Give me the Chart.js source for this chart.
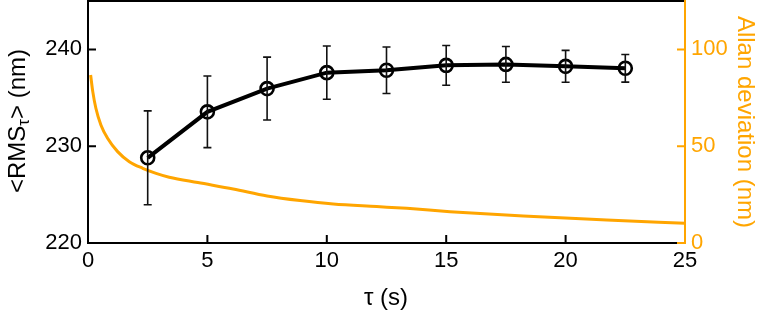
<!DOCTYPE html>
<html>
<head>
<meta charset="utf-8">
<script src="https://cdn.jsdelivr.net/npm/chart.js@4.4.0/dist/chart.umd.min.js"></script>
<style>
  html, body { margin: 0; padding: 0; background: #fff; }
  #wrap { width: 763px; height: 313px; }
</style>
</head>
<body>
<div id="wrap"><canvas id="rmsChart" width="763" height="313"></canvas></div>
<script>
// values

// <RMS_tau> with error bars (left axis)
const rmsTau  = [2.5, 5, 7.5, 10, 12.5, 15, 17.5, 20, 22.5];
const rmsMean = [228.8, 233.55, 235.95, 237.6, 237.85, 238.35, 238.45, 238.25, 238.05];
const rmsErr  = [4.85, 3.7, 3.25, 2.75, 2.4, 2.05, 1.85, 1.65, 1.43];

// Allan deviation curve (right axis)
const allanTau = [0.11, 0.20, 0.33, 0.54, 0.82, 1.24, 1.73, 2.29, 2.85, 3.4, 4.6, 6.08, 7.5, 8.88, 10.27, 12.09, 13.35, 15.16, 18.23, 21.72, 25];
const allanDev = [86.8, 78.2, 69.6, 61.0, 54.1, 47.2, 42.0, 38.6, 36.0, 34.0, 31.2, 27.9, 24.3, 21.9, 20.1, 18.8, 17.9, 16.2, 13.9, 11.9, 10.2];

// tick labels
const xTicks     = [0, 5, 10, 15, 20, 25];
const leftTicks  = [220, 230, 240];
const rightTicks = [0, 50, 100];

const orange = 'rgb(255,165,0)';
const black = '#000';

// error bars, drawn through the chart scales
const errorBarPlugin = {
    id: 'errorBars',
    afterDatasetsDraw(chart) {
        const ctx = chart.ctx;
        const xs = chart.scales.x, ys = chart.scales.yLeft;
        ctx.save();
        ctx.strokeStyle = '#111';
        ctx.lineWidth = 1.6;
        rmsTau.forEach((t, i) => {
            const px = xs.getPixelForValue(t);
            const top = ys.getPixelForValue(rmsMean[i] + rmsErr[i]);
            const bot = ys.getPixelForValue(rmsMean[i] - rmsErr[i]);
            ctx.beginPath();
            ctx.moveTo(px, top); ctx.lineTo(px, bot);
            ctx.moveTo(px - 4, top); ctx.lineTo(px + 4, top);
            ctx.moveTo(px - 4, bot); ctx.lineTo(px + 4, bot);
            ctx.stroke();
        });
        ctx.restore();
    }
};

// box top line, inward ticks and the axis titles
const framePlugin = {
    id: 'frame',
    afterDraw(chart) {
        const ctx = chart.ctx;
        const a = chart.chartArea;
        const xs = chart.scales.x, yl = chart.scales.yLeft, yr = chart.scales.yRight;
        ctx.save();
        ctx.lineWidth = 2;
        ctx.strokeStyle = black;
        ctx.beginPath();
        ctx.moveTo(a.left - 1, a.top); ctx.lineTo(a.right, a.top);
        ctx.stroke();

        ctx.beginPath();
        xTicks.forEach(v => { const p = xs.getPixelForValue(v); ctx.moveTo(p, a.bottom); ctx.lineTo(p, a.bottom - 8); });
        leftTicks.forEach(v => { const p = yl.getPixelForValue(v); ctx.moveTo(a.left, p); ctx.lineTo(a.left + 8, p); });
        ctx.stroke();

        ctx.strokeStyle = orange;
        ctx.beginPath();
        rightTicks.forEach(v => { const p = yr.getPixelForValue(v); ctx.moveTo(a.right, p); ctx.lineTo(a.right - 8, p); });
        ctx.moveTo(a.right, a.top - 1); ctx.lineTo(a.right, a.bottom);
        ctx.stroke();

        // left title with subscript tau
        ctx.fillStyle = black;
        ctx.translate(0, 121);
        ctx.rotate(-Math.PI / 2);
        const big = '24px "Liberation Sans", Arial, sans-serif';
        const small = '17px "Liberation Sans", Arial, sans-serif';
        ctx.font = big;
        const w1 = ctx.measureText('<RMS').width;
        const w3 = ctx.measureText('> (nm)').width;
        ctx.font = small;
        const w2 = ctx.measureText('\u03c4').width;
        let x0 = -(w1 + w2 + w3) / 2;
        ctx.textBaseline = 'alphabetic';
        ctx.font = big;
        ctx.fillText('<RMS', x0, 25);
        ctx.font = small;
        ctx.fillText('\u03c4', x0 + w1, 29);
        ctx.font = big;
        ctx.fillText('> (nm)', x0 + w1 + w2, 25);
        ctx.setTransform(1, 0, 0, 1, 0, 0);

        // right title
        ctx.fillStyle = orange;
        ctx.translate(738, 122);
        ctx.rotate(Math.PI / 2);
        ctx.font = big;
        ctx.textAlign = 'center';
        ctx.fillText('Allan deviation (nm)', 0, 0);
        ctx.setTransform(1, 0, 0, 1, 0, 0);

        // x title
        ctx.fillStyle = black;
        ctx.textAlign = 'center';
        ctx.fillText('\u03c4 (s)', 386, 305);
        ctx.restore();
    }
};

const tickFont = { family: '"Liberation Sans", Arial, sans-serif', size: 22 };

// no extra padding for label overflow, the frame sits at fixed places
function fixV(w) {
    return s => { s.width = w; s.paddingTop = 0; s.paddingBottom = 0; };
}

new Chart(document.getElementById('rmsChart').getContext('2d'), {
    type: 'line',
    data: {
        datasets: [{
            label: 'RMS',
            data: rmsTau.map((t, i) => ({ x: t, y: rmsMean[i] })),
            yAxisID: 'yLeft',
            borderColor: black,
            borderWidth: 4,
            pointRadius: 6.5,
            pointBorderWidth: 2.6,
            pointBorderColor: black,
            pointBackgroundColor: 'rgba(0,0,0,0)',
            tension: 0,
            order: 0
        }, {
            label: 'Allan',
            data: allanTau.map((t, i) => ({ x: t, y: allanDev[i] })),
            yAxisID: 'yRight',
            borderColor: orange,
            borderWidth: 3,
            pointRadius: 0,
            cubicInterpolationMode: 'monotone',
            order: 1
        }]
    },
    options: {
        responsive: false,
        animation: false,
        devicePixelRatio: 1,
        layout: { autoPadding: false, padding: { top: 1, left: 0, right: 0, bottom: 0 } },
        plugins: { legend: { display: false }, tooltip: { enabled: false } },
        scales: {
            x: {
                type: 'linear', min: 0, max: 25,
                afterBuildTicks: s => { s.ticks = xTicks.map(v => ({ value: v })); },
                afterFit: s => { s.height = 70; s.paddingLeft = 0; s.paddingRight = 0; },
                grid: { drawOnChartArea: false, drawTicks: false },
                border: { display: true, color: black, width: 2 },
                ticks: { color: black, font: tickFont, padding: 5, maxRotation: 0 }
            },
            yLeft: {
                type: 'linear', position: 'left', min: 220, max: 245,
                afterBuildTicks: s => { s.ticks = leftTicks.map(v => ({ value: v })); },
                afterFit: fixV(88),
                grid: { drawOnChartArea: false, drawTicks: false },
                border: { display: true, color: black, width: 2 },
                ticks: { color: black, font: tickFont, padding: 6 }
            },
            yRight: {
                type: 'linear', position: 'right', min: 0, max: 125,
                afterBuildTicks: s => { s.ticks = rightTicks.map(v => ({ value: v })); },
                afterFit: fixV(78),
                grid: { drawOnChartArea: false, drawTicks: false },
                border: { display: true, color: orange, width: 2 },
                ticks: { color: orange, font: tickFont, padding: 6 }
            }
        }
    },
    plugins: [errorBarPlugin, framePlugin]
});
</script>
</body>
</html>
